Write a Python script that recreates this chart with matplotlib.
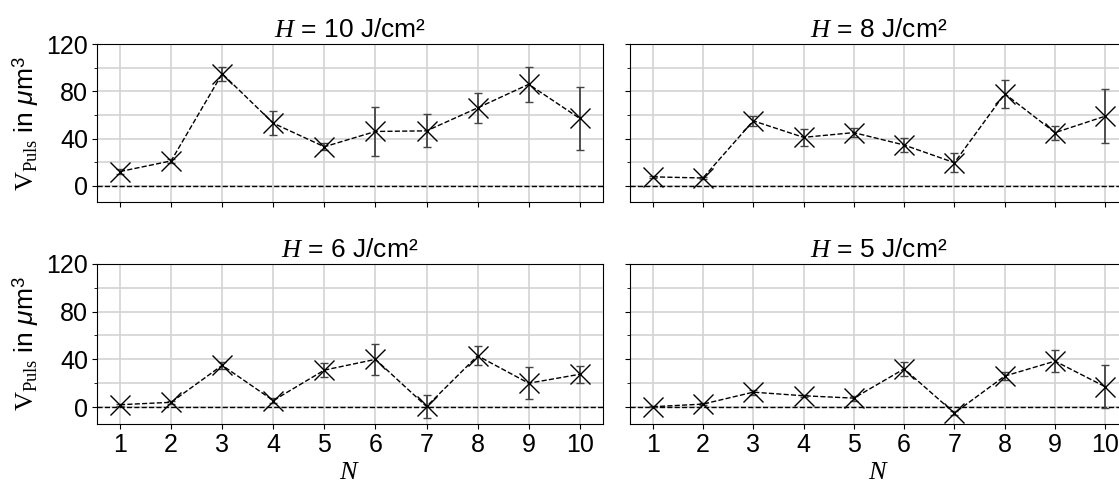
import matplotlib
matplotlib.use("Agg")
import matplotlib.pyplot as plt
import numpy as np
from matplotlib.ticker import MultipleLocator

plt.rcParams['font.family'] = ['Liberation Sans', 'DejaVu Sans']
plt.rcParams['mathtext.fontset'] = 'custom'
plt.rcParams['mathtext.rm'] = 'Liberation Serif'
plt.rcParams['mathtext.it'] = 'Liberation Serif:italic'
plt.rcParams['mathtext.sf'] = 'Liberation Sans'
plt.rcParams['mathtext.bf'] = 'Liberation Sans:italic'

N = [1, 2, 3, 4, 5, 6, 7, 8, 9, 10]
fluences = ['10', '8', '6', '5']

v_h10 = [12, 21, 95, 53, 33, 46, 46.5, 66, 86, 57]
e_h10 = [2, 2, 6, 10, 3, 21, 14, 13, 15, 27]
v_h8 = [7.5, 6.5, 55, 41, 45, 34.5, 19.5, 78, 45, 59]
e_h8 = [1, 1, 4, 7, 4, 6, 8, 12, 6, 23]
v_h6 = [2, 4, 35, 5.5, 31, 40, 0.5, 43, 20, 27.5]
e_h6 = [1, 1, 3, 2, 6, 13, 10, 8, 13.5, 7]
v_h5 = [0.3, 2.5, 12.5, 9.5, 7.5, 32, -5, 26, 38.5, 17]
e_h5 = [0.5, 1, 2, 1, 2, 6, 2, 3, 9, 18]

values = [v_h10, v_h8, v_h6, v_h5]
errors = [e_h10, e_h8, e_h6, e_h5]

fig = plt.figure(figsize=(11.19, 4.86), dpi=100)
positions = [[0.0867, 0.584, 0.452, 0.325],
             [0.5630, 0.584, 0.445, 0.325],
             [0.0867, 0.128, 0.452, 0.329],
             [0.5630, 0.128, 0.445, 0.329]]

for i in range(4):
    ax = fig.add_axes(positions[i])
    ax.axhline(0, color='black', linestyle='--', linewidth=1, zorder=2)
    ax.errorbar(N, values[i], yerr=errors[i], fmt='none', ecolor='#444444',
                elinewidth=1.3, capsize=3, capthick=1, zorder=3)
    ax.plot(N, values[i], color='black', linestyle='--', linewidth=1,
            marker='x', markersize=14, markeredgewidth=1, zorder=4)
    ax.set_xlim(0.55, 10.45)
    ax.set_ylim(-14, 120)
    ax.set_xticks(N)
    ax.yaxis.set_major_locator(MultipleLocator(40))
    ax.yaxis.set_minor_locator(MultipleLocator(20))
    ax.grid(True, which='both', color='#d3d3d3', linewidth=1.2, zorder=0)
    ax.set_axisbelow(True)
    ax.tick_params(labelsize=18, pad=3)
    ax.set_title(r'$H$ = ' + fluences[i] + ' J/cm²', fontsize=19, pad=5)
    if i % 2 == 0:
        ax.set_ylabel(r'$\mathrm{V}_\mathrm{Puls}$ in $\mathbf{\mu}$m$^\mathsf{3}$', fontsize=19, labelpad=4)
    else:
        ax.tick_params(labelleft=False)
    if i < 2:
        ax.tick_params(labelbottom=False)
    else:
        ax.set_xlabel(r'$N$', fontsize=19, labelpad=2)

fig.savefig('out.png', dpi=100)
